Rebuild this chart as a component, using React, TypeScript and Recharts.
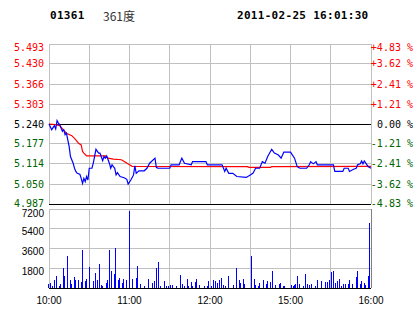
import { LineChart, Line, BarChart, Bar, XAxis, YAxis, CartesianGrid, ReferenceLine } from 'recharts';

// previous close and axis ticks
const prevClose = 5.24;
const priceTicks = [4.987, 5.05, 5.114, 5.177, 5.24, 5.303, 5.366, 5.43, 5.493];
const pctLabels = ['-4.83 %', '-3.62 %', '-2.41 %', '-1.21 %', '0.00 %', '+1.21 %', '+2.41 %', '+3.62 %', '+4.83 %'];
const timeTicks = [0, 30, 60, 90, 120, 150, 180, 210, 240];
const timeLabelMinutes = [0, 60, 120, 180, 240];
const timeLabels = ['10:00', '11:00', '12:00', '15:00', '16:00'];
const volTicks = [0, 1800, 3600, 5400, 7200];

// last price, minutes since open (lunch break removed)
const priceMinutes = [
  0, 2, 4, 5, 6, 7, 8, 9, 10, 11, 12, 13, 14, 15, 16, 18, 19, 20, 21, 23, 24, 25, 26, 27, 28, 29, 30, 32, 33, 35,
  37, 38, 40, 41, 42, 43, 45, 46, 47, 48, 49, 50, 51, 53, 56, 58, 59, 61, 63, 64, 65, 67, 71, 73, 75, 79, 80, 81,
  90, 91, 97, 99, 101, 106, 107, 117, 118, 129, 131, 132, 134, 137, 140, 147, 150, 152, 154, 157, 159, 161, 163,
  166, 168, 171, 173, 175, 180, 183, 185, 187, 192, 194, 195, 197, 199, 200, 212, 213, 219, 220, 223, 224, 227,
  229, 230, 232, 233, 234, 235, 237, 238, 240,
];
const priceValues = [
  5.24, 5.222, 5.235, 5.224, 5.251, 5.243, 5.238, 5.227, 5.217, 5.222, 5.206, 5.211, 5.19, 5.169, 5.137, 5.116,
  5.1, 5.09, 5.084, 5.081, 5.068, 5.052, 5.068, 5.058, 5.074, 5.063, 5.1, 5.1, 5.116, 5.16, 5.148, 5.148, 5.124,
  5.137, 5.132, 5.139, 5.116, 5.1, 5.111, 5.105, 5.1, 5.079, 5.086, 5.074, 5.07, 5.065, 5.05, 5.063, 5.079, 5.108,
  5.084, 5.092, 5.092, 5.1, 5.116, 5.132, 5.103, 5.1, 5.1, 5.111, 5.111, 5.132, 5.116, 5.111, 5.121, 5.121, 5.111,
  5.111, 5.09, 5.1, 5.084, 5.084, 5.074, 5.071, 5.079, 5.084, 5.1, 5.1, 5.121, 5.116, 5.137, 5.16, 5.148, 5.142,
  5.132, 5.151, 5.151, 5.132, 5.105, 5.1, 5.1, 5.111, 5.121, 5.114, 5.121, 5.111, 5.111, 5.09, 5.09, 5.1, 5.1,
  5.09, 5.097, 5.1, 5.111, 5.114, 5.123, 5.114, 5.123, 5.111, 5.105, 5.1,
];

// average price
const avgMinutes = [0, 5, 8, 11, 13, 17, 20, 22, 24, 25, 26, 28, 42, 44, 48, 54, 57, 60, 62, 148, 149, 165, 166, 240];
const avgValues = [
  5.24, 5.238, 5.235, 5.22, 5.211, 5.203, 5.19, 5.179, 5.174, 5.153, 5.148, 5.139, 5.139, 5.132, 5.129, 5.127,
  5.119, 5.111, 5.106, 5.105, 5.103, 5.103, 5.105, 5.106,
];

// volume per minute
const volMinutes = [
  0, 1, 3, 4, 6, 8, 9, 11, 12, 14, 16, 17, 19, 20, 22, 24, 25, 27, 28, 30, 33, 35, 36, 38, 39, 40, 43, 44, 45, 47,
  49, 50, 52, 53, 55, 56, 58, 60, 62, 65, 66, 68, 71, 74, 77, 79, 80, 82, 83, 86, 88, 89, 91, 92, 95, 98, 100, 101,
  103, 104, 106, 107, 109, 110, 112, 116, 118, 119, 121, 123, 124, 126, 127, 129, 130, 132, 134, 138, 140, 142, 143,
  145, 146, 151, 153, 154, 156, 157, 160, 162, 163, 165, 167, 169, 172, 173, 175, 176, 181, 182, 183, 184, 185, 187,
  190, 191, 193, 194, 196, 199, 200, 203, 206, 208, 209, 211, 212, 214, 215, 217, 218, 220, 221, 223, 224, 226, 229,
  230, 232, 233, 235, 236, 238, 239,
];
const volValues = [
  400, 450, 210, 760, 1120, 210, 360, 1820, 1120, 2950, 760, 400, 1000, 760, 760, 520, 3430, 610, 850, 1910, 610,
  1370, 760, 2220, 300, 210, 460, 760, 3430, 1520, 1310, 3610, 760, 910, 460, 850, 760, 7050, 850, 910, 2040, 400,
  210, 850, 460, 610, 1820, 2340, 210, 610, 210, 210, 300, 300, 150, 1220, 400, 210, 850, 210, 550, 210, 550, 850,
  300, 210, 210, 610, 210, 700, 610, 460, 760, 910, 300, 210, 1120, 300, 1820, 760, 460, 850, 400, 2950, 850, 300,
  210, 460, 760, 400, 670, 520, 1580, 300, 360, 460, 210, 210, 300, 210, 300, 400, 1120, 400, 210, 1310, 400, 300,
  400, 210, 760, 610, 520, 520, 760, 1430, 1580, 460, 610, 850, 210, 400, 400, 400, 760, 400, 1000, 1520, 400, 670,
  460, 300, 1060, 5960,
];

const priceData = priceMinutes.map((m, i) => ({ m, p: priceValues[i] }));
const avgData = avgMinutes.map((m, i) => ({ m, p: avgValues[i] }));
const volData = volMinutes.map((m, i) => ({ m, v: volValues[i] }));

const RED = '#ff0000';
const GREEN = '#006400';
const GRID = '#c0c0c0';
const MONO = '"DejaVu Sans Mono", monospace';
const SANS = '"Liberation Sans", Arial, sans-serif';

const tickIndex = (v: number) => priceTicks.findIndex((t) => Math.abs(t - v) < 1e-6);
// nudge the outermost labels inward a little, like the original
const labelShift = (i: number) => (i === priceTicks.length - 1 ? 3 : i === 0 ? -1 : 0);

const PriceLeftTick = (props: any) => {
  const { x, y, payload } = props;
  const v = payload.value;
  const color = v > prevClose + 1e-6 ? RED : v < prevClose - 1e-6 ? GREEN : '#000';
  return (
    <text x={x} y={y + labelShift(tickIndex(v))} textAnchor="end" dominantBaseline="central" fill={color} fontSize={10} fontFamily={MONO}>
      {v.toFixed(3)}
    </text>
  );
};

const PriceRightTick = (props: any) => {
  const { x, y, payload } = props;
  const i = tickIndex(payload.value);
  const label = pctLabels[i] ?? '';
  const color = label[0] === '+' ? RED : label[0] === '-' ? GREEN : '#000';
  return (
    <text x={x + 42} y={y + labelShift(i)} textAnchor="end" dominantBaseline="central" fill={color} fontSize={10} fontFamily={MONO}>
      {label}
    </text>
  );
};

const VolTick = (props: any) => {
  const { x, y, payload } = props;
  if (payload.value === 0) return null;
  const dy = payload.value === volTicks[volTicks.length - 1] ? 4 : 3;
  return (
    <text x={x} y={y + dy} textAnchor="end" dominantBaseline="central" fill="#000" fontSize={10} fontFamily={SANS}>
      {payload.value}
    </text>
  );
};

const TimeTick = (props: any) => {
  const { x, y, payload } = props;
  const i = timeLabelMinutes.indexOf(payload.value);
  if (i < 0) return null;
  return (
    <text x={x} y={y + 10} textAnchor="middle" dominantBaseline="central" fill="#000" fontSize={10} fontFamily={SANS}>
      {timeLabels[i]}
    </text>
  );
};

export default function App() {
  return (
    <div style={{ position: 'relative', width: 414, height: 314, background: '#fff', overflow: 'hidden' }}>
      <style>{`
        body { margin: 0; }
        .recharts-cartesian-grid line, .recharts-reference-line line, .recharts-bar-rectangle path { shape-rendering: crispEdges; }
      `}</style>

      <div style={{ position: 'absolute', left: 50, top: 9, lineHeight: '14px', font: `bold 11px ${MONO}`, letterSpacing: 0.3 }}>
        01361
      </div>
      <div style={{ position: 'absolute', left: 103, top: 8, lineHeight: '16px', fontSize: 12, fontFamily: '"Noto Sans CJK SC", sans-serif', color: '#333' }}>
        361度
      </div>
      <div style={{ position: 'absolute', left: 237, top: 9, lineHeight: '14px', font: `bold 11px ${MONO}`, letterSpacing: 0.3 }}>
        2011-02-25 16:01:30
      </div>

      <div style={{ position: 'absolute', left: 0, top: 0 }}>
        <LineChart width={414} height={214} margin={{ top: 44, right: 0, bottom: 10, left: 0 }}>
          <CartesianGrid stroke={GRID} strokeWidth={1} />
          <XAxis type="number" dataKey="m" domain={[0, 240]} ticks={timeTicks} interval={0} hide />
          <YAxis
            domain={[priceTicks[0], priceTicks[priceTicks.length - 1]]}
            ticks={priceTicks}
            interval={0}
            width={49}
            axisLine={false}
            tickLine={false}
            tickSize={0}
            tickMargin={5}
            tick={<PriceLeftTick />}
            allowDataOverflow
          />
          <YAxis
            yAxisId="pct"
            orientation="right"
            domain={[priceTicks[0], priceTicks[priceTicks.length - 1]]}
            ticks={priceTicks}
            interval={0}
            width={43}
            axisLine={false}
            tickLine={false}
            tickSize={0}
            tickMargin={0}
            tick={<PriceRightTick />}
            allowDataOverflow
          />
          <ReferenceLine y={prevClose} stroke="#000" strokeWidth={1} />
          <ReferenceLine y={priceTicks[0]} stroke="#000" strokeWidth={1} />
          <Line data={avgData} yAxisId="pct" dataKey="p" stroke={RED} strokeWidth={1.2} dot={false} isAnimationActive={false} />
          <Line data={priceData} dataKey="p" stroke="#0000ff" strokeWidth={1.2} dot={false} isAnimationActive={false} />
        </LineChart>
      </div>

      <div style={{ position: 'absolute', left: 0, top: 0 }}>
        <BarChart width={414} height={314} data={volData} margin={{ top: 209, right: 43, bottom: 0, left: 0 }}>
          <CartesianGrid stroke={GRID} strokeWidth={1} />
          <XAxis
            type="number"
            dataKey="m"
            domain={[0, 240]}
            ticks={timeTicks}
            interval={0}
            height={26}
            axisLine={false}
            tickLine={false}
            tickSize={0}
            tick={<TimeTick />}
          />
          <YAxis
            domain={[0, 7200]}
            ticks={volTicks}
            interval={0}
            width={49}
            axisLine={false}
            tickLine={false}
            tickSize={0}
            tickMargin={5}
            tick={<VolTick />}
          />
          <ReferenceLine y={0} stroke="#000" strokeWidth={1} />
          <ReferenceLine x={240} stroke="#808080" strokeWidth={1} />
          <Bar dataKey="v" fill="#0000ff" barSize={1} isAnimationActive={false} />
        </BarChart>
      </div>
    </div>
  );
}
